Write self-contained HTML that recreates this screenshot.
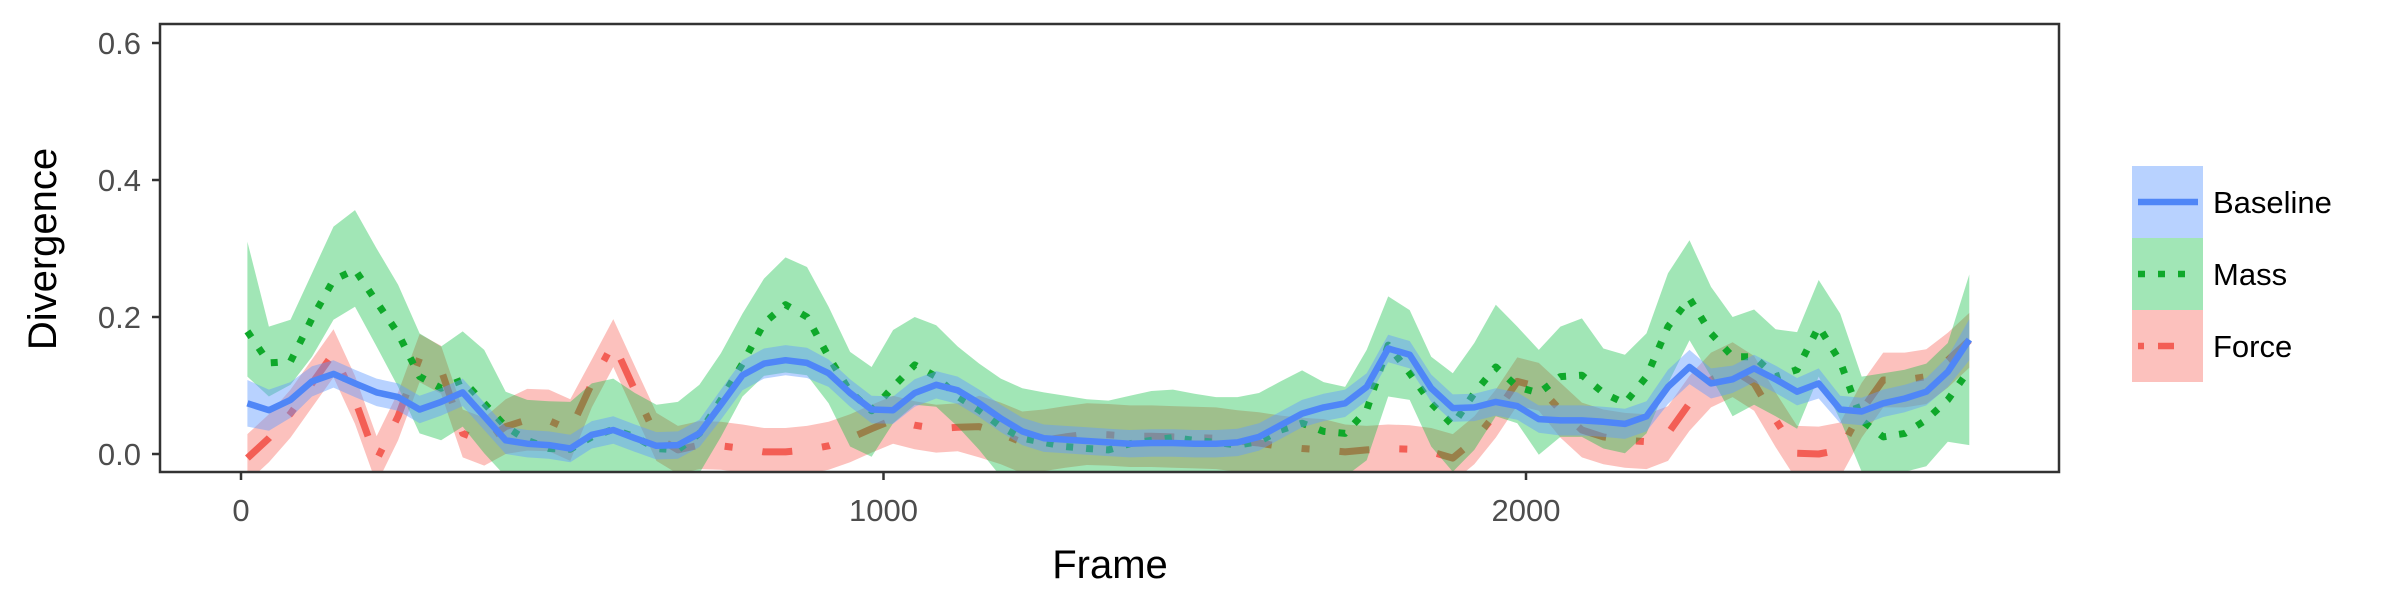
<!DOCTYPE html>
<html><head><meta charset="utf-8">
<style>
html,body{margin:0;padding:0;background:#fff;}
svg{display:block;font-family:"Liberation Sans",Arial,sans-serif;}
</style></head>
<body>
<svg id="chart" width="2400" height="600" viewBox="0 0 2400 600">
<defs><clipPath id="pclip"><rect x="160" y="24" width="1899" height="448"/></clipPath></defs>
<rect x="0" y="0" width="2400" height="600" fill="#fff"/>
<g id="marks" clip-path="url(#pclip)"></g>
<rect x="160" y="24" width="1899" height="448" fill="none" stroke="#333" stroke-width="2.5"/>
<g id="axes"></g>
<text x="56" y="249" transform="rotate(-90 56 249)" text-anchor="middle" font-size="40" fill="#000">Divergence</text>
<text x="1110" y="578" text-anchor="middle" font-size="40" fill="#000">Frame</text>
<g id="legend"></g>
</svg>
<script>
const xTicks = [0, 1000, 2000];
const yTicks = [0.0, 0.2, 0.4, 0.6];
const yTickLabels = ["0.0", "0.2", "0.4", "0.6"];
const seriesNames = ["Baseline", "Mass", "Force"];
const frameStart = 10;
const frameStep = 33.5;
const baselineMean = [.074,.064,.079,.106,.117,.103,.090,.083,.065,.076,.090,.055,.020,.015,.013,.008,.028,.035,.023,
.012,.013,.030,.072,.115,.132,.137,.133,.118,.089,.065,.064,.089,.101,.093,.074,.052,.033,.023,.021,.019,.017,
.015,.016,.016,.015,.015,.017,.025,.042,.059,.068,.074,.098,.154,.145,.096,.067,.068,.076,.070,.051,.049,
.049,.047,.044,.055,.098,.127,.103,.109,.125,.109,.091,.103,.065,.062,.074,.081,.091,.120,.167];
const baselineHalf = [.034,.03,.026,.022,.02,.02,.02,.02,.02,.02,.02,.02,.02,.02,.02,.02,.02,.02,.02,
.02,.02,.02,.022,.022,.022,.022,.022,.02,.02,.02,.02,.02,.02,.02,.02,.02,.02,.02,.02,.02,.02,
.02,.02,.02,.02,.02,.02,.02,.02,.02,.02,.02,.02,.02,.02,.02,.02,.02,.02,.02,.02,.022,
.022,.022,.022,.022,.025,.025,.022,.02,.02,.02,.02,.022,.02,.02,.02,.02,.02,.022,.03];
const massMean = [.179,.133,.135,.198,.254,.269,.222,.176,.113,.096,.108,.074,.040,.020,.008,.007,.025,.036,.025,
.008,.006,.030,.079,.132,.191,.218,.200,.142,.091,.063,.098,.130,.113,.084,.064,.040,.023,.017,.011,.008,.006,
.015,.020,.024,.020,.017,.013,.018,.035,.045,.033,.030,.064,.159,.118,.074,.042,.089,.127,.098,.089,.113,
.115,.089,.074,.113,.186,.227,.176,.142,.142,.113,.123,.186,.135,.049,.025,.030,.050,.079,.123];
const massHi = [.310,.186,.196,.264,.332,.356,.300,.247,.176,.157,.179,.152,.091,.079,.077,.076,.103,.110,.089,
.072,.076,.101,.147,.205,.256,.287,.273,.215,.149,.127,.181,.200,.188,.157,.132,.110,.096,.090,.085,.080,.078,
.085,.092,.094,.088,.083,.083,.089,.106,.122,.105,.098,.152,.230,.210,.142,.118,.162,.218,.186,.152,.186,
.198,.154,.145,.176,.264,.312,.244,.200,.211,.182,.178,.254,.205,.113,.118,.123,.132,.162,.262];
const massLo = [.113,.084,.101,.142,.196,.215,.157,.098,.030,.020,.040,.001,-.033,-.033,-.033,-.033,-.033,-.033,-.033,
-.033,-.033,-.028,.025,.084,.114,.119,.115,.074,.011,-.004,.045,.072,.069,.040,.006,-.033,-.033,-.033,-.033,-.033,-.033,
-.033,-.033,-.033,-.033,-.033,-.033,-.033,-.033,-.033,-.033,-.033,-.009,.084,.079,.011,-.026,.006,.055,.045,-.001,.025,
.025,.008,.001,.030,.103,.166,.113,.055,.072,.055,.037,.113,.050,-.026,-.028,-.026,-.018,.018,.013];
const forceMean = [-.006,.023,.059,.103,.147,.079,-.009,.055,.140,.123,.030,.018,.040,.050,.049,.035,.103,.162,.093,
.025,.006,.013,.012,.008,.003,.003,.006,.012,.023,.037,.050,.042,.037,.039,.040,.030,.017,.020,.025,.029,.028,
.026,.026,.025,.024,.023,.019,.016,.011,.008,.006,.003,.006,.008,.007,.003,-.006,.020,.059,.106,.098,.064,
.035,.025,.020,.018,.030,.074,.108,.123,.103,.050,.001,.000,.006,.064,.108,.108,.113,.137,.166];
const forceHalf = [.035,.035,.035,.035,.035,.035,.035,.035,.035,.035,.035,.035,.04,.045,.045,.045,.035,.035,.035,
.035,.035,.035,.035,.035,.035,.035,.035,.035,.035,.035,.035,.035,.035,.035,.045,.045,.045,.045,.045,.045,.045,
.045,.045,.045,.045,.045,.045,.045,.045,.045,.045,.04,.035,.035,.035,.035,.035,.035,.035,.035,.035,.04,
.04,.04,.04,.04,.04,.04,.04,.04,.04,.04,.04,.04,.04,.04,.04,.04,.04,.04,.04];

const NS = "http://www.w3.org/2000/svg";
const X0 = 241, XS = 0.6425, Y0 = 454, YS = 685;
function xScale(f){ return X0 + f * XS; }
function yScale(v){ return Y0 - v * YS; }
function frameAt(i){ return frameStart + frameStep * i; }
function linePath(vals){
  return vals.map((v,i)=>(i?'L':'M')+xScale(frameAt(i)).toFixed(1)+','+yScale(v).toFixed(1)).join(' ');
}
function bandPath(lo, hi){
  let d = hi.map((v,i)=>(i?'L':'M')+xScale(frameAt(i)).toFixed(1)+','+yScale(v).toFixed(1)).join(' ');
  for(let i=lo.length-1;i>=0;i--) d += ' L'+xScale(frameAt(i)).toFixed(1)+','+yScale(lo[i]).toFixed(1);
  return d + ' Z';
}
function mk(tag, attrs, parent){
  const el = document.createElementNS(NS, tag);
  for(const k in attrs) el.setAttribute(k, attrs[k]);
  parent.appendChild(el);
  return el;
}
const marks = document.getElementById('marks');
const forceLo = forceMean.map((v,i)=>v-forceHalf[i]);
const forceHi = forceMean.map((v,i)=>v+forceHalf[i]);
const baseLo = baselineMean.map((v,i)=>v-baselineHalf[i]);
const baseHi = baselineMean.map((v,i)=>v+baselineHalf[i]);

let e;
e = mk('path', {d: bandPath(forceLo, forceHi), fill:'#F8766D', 'fill-opacity':0.45}, marks);


e = mk('path', {d: linePath(forceMean), fill:'none', stroke:'#F35E55', 'stroke-width':7, 'stroke-dasharray':'30 30 8 30', 'stroke-linejoin':'round'}, marks);


e = mk('path', {d: bandPath(massLo, massHi), fill:'#00BA38', 'fill-opacity':0.37}, marks);


e = mk('path', {d: linePath(massMean), fill:'none', stroke:'#0FA82A', 'stroke-width':7, 'stroke-dasharray':'7 13', 'stroke-linejoin':'round'}, marks);


e = mk('path', {d: bandPath(baseLo, baseHi), fill:'#619CFF', 'fill-opacity':0.45}, marks);


e = mk('path', {d: linePath(baselineMean), fill:'none', stroke:'#4F86F7', 'stroke-width':6.5, 'stroke-linejoin':'round'}, marks);



const axes = document.getElementById('axes');
yTicks.forEach((t,i)=>{
  const y = yScale(t);
  let tk = mk('line', {x1:152, x2:160, y1:y, y2:y, stroke:'#333', 'stroke-width':2.5}, axes);
  
  
  let tl = mk('text', {x:141, y:y+11, 'text-anchor':'end', 'font-size':31, fill:'#4d4d4d'}, axes);
  tl.textContent = yTickLabels[i];
  
  
});
xTicks.forEach(t=>{
  const x = xScale(t);
  let tk = mk('line', {x1:x, x2:x, y1:472, y2:480, stroke:'#333', 'stroke-width':2.5}, axes);
  
  
  let tl = mk('text', {x:x, y:521, 'text-anchor':'middle', 'font-size':31, fill:'#4d4d4d'}, axes);
  tl.textContent = String(t);
  
  
});

const legend = document.getElementById('legend');
const legFill = ['rgba(97,156,255,0.45)','rgba(0,186,56,0.37)','rgba(248,118,109,0.45)'];
const legStroke = ['#4F86F7','#0FA82A','#F35E55'];
const legDash = ['none','7 13','6 14 16 30'];
seriesNames.forEach((n,i)=>{
  const y0 = 166 + i*72;
  let r = mk('rect', {x:2132, y:y0, width:71, height:72, fill:legFill[i]}, legend);
  
  
  let l = mk('line', {x1:2138, x2:2198, y1:y0+36, y2:y0+36, stroke:legStroke[i], 'stroke-width':6.5, 'stroke-dasharray':legDash[i]}, legend);
  
  
  let t = mk('text', {x:2213, y:y0+47, 'font-size':31, fill:'#000'}, legend);
  t.textContent = n;
  
  
});
</script>
</body></html>
